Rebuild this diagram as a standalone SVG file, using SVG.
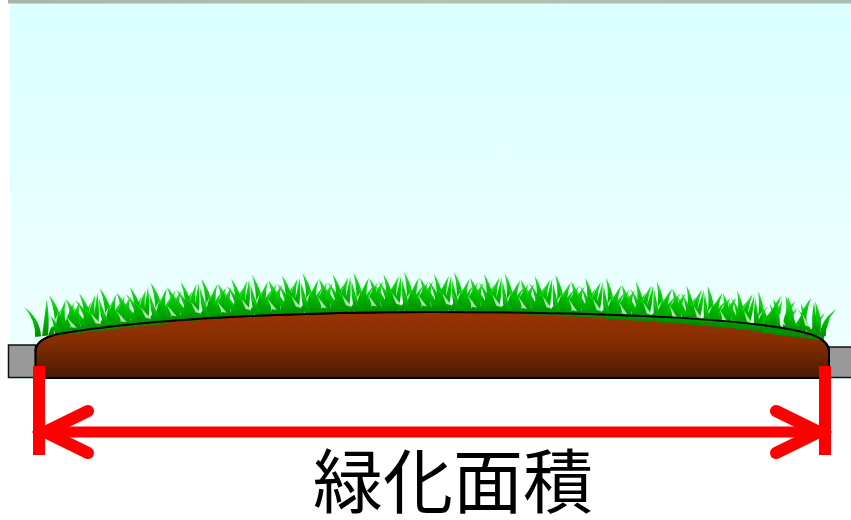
<svg xmlns="http://www.w3.org/2000/svg" xmlns:xlink="http://www.w3.org/1999/xlink" width="851" height="520" viewBox="0 0 851 520">
  <defs>
    <linearGradient id="sky" x1="0" y1="0" x2="0" y2="1">
      <stop offset="0" stop-color="#dbffff"/>
      <stop offset="1" stop-color="#f0ffff"/>
    </linearGradient>
    <linearGradient id="band" x1="0" y1="0" x2="1" y2="0">
      <stop offset="0" stop-color="#a9b4a6"/>
      <stop offset="0.5" stop-color="#b4c0ac"/>
      <stop offset="1" stop-color="#a8bcaf"/>
    </linearGradient>
    <linearGradient id="soil" x1="0" y1="0" x2="0" y2="1">
      <stop offset="0" stop-color="#9a3300"/>
      <stop offset="0.45" stop-color="#862e00"/>
      <stop offset="1" stop-color="#4a1a04"/>
    </linearGradient>
    <linearGradient id="blade" x1="0" y1="1" x2="0" y2="0">
      <stop offset="0" stop-color="#008a00"/>
      <stop offset="0.6" stop-color="#00c400"/>
      <stop offset="1" stop-color="#33e033"/>
    </linearGradient>
    <!-- a clump of grass blades, base on y = 0 -->
    <g id="tuft" fill="url(#blade)">
      <path d="M0,1 Q3,-14 -7,-30 Q7,-16 6,1Z"/>
      <path d="M7,1 Q12,-18 16,-35 Q17,-16 13,1Z"/>
      <path d="M13,1 Q20,-14 31,-25 Q22,-11 19,1Z"/>
      <path d="M20,1 Q24,-20 19,-39 Q31,-20 27,1Z"/>
      <path d="M28,1 Q33,-16 43,-29 Q38,-13 35,1Z"/>
      <path d="M36,1 Q40,-18 35,-33 Q47,-18 43,1Z"/>
      <path d="M44,1 Q51,-16 60,-27 Q54,-11 51,1Z"/>
      <path d="M50,1 Q54,-18 49,-37 Q61,-18 57,1Z"/>
      <path d="M56,1 Q60,-12 66,-22 Q63,-10 62,1Z"/>
      <path d="M16,-6 Q22,-14 26,-20 L22,-8Z" fill="#e8ffe8" opacity="0.7"/>
      <path d="M41,-5 Q46,-12 50,-18 L46,-6Z" fill="#e8ffe8" opacity="0.7"/>
    </g>
    <g id="tuftB">
      <use xlink:href="#tuft" transform="scale(-1,0.9)"/>
    </g>
  </defs>

  <style>
    .red { stroke: #ff0000; fill: none; }
    .block { fill: #999999; stroke: #111111; stroke-width: 1.5; }
    .label { font-family: "Noto Sans CJK JP", "Noto Sans", sans-serif; font-size: 70px; fill: #000000; }
  </style>

  <!-- background -->
  <rect x="0" y="0" width="851" height="520" fill="#ffffff"/>
  <rect x="10" y="3" width="841" height="378" fill="url(#sky)"/>
  <rect x="8" y="0" width="843" height="3.5" fill="url(#band)"/>

  <!-- edge blocks -->
  <g id="block-left">
    <rect class="block" x="8.5" y="345" width="27" height="32.5"/>
  </g>
  <g id="block-right">
    <rect class="block" x="828" y="347" width="25" height="30.5"/>
  </g>

  <!-- soil mound -->
  <g id="soil-mound">
    <path id="mound" d="M35.5,378 L35.5,351 Q36,339 58,334 C150,318 300,312 430,312 C600,312 750,318 806,333 Q829,339 829,352 L829,378 Z"
          fill="url(#soil)" stroke="#000000" stroke-width="2"/>
  </g>

  <!-- grass on the mound -->
  <g id="grass">
    <use xlink:href="#tuft" transform="translate(35,336) rotate(-7)"/>
    <use xlink:href="#tuft" transform="translate(85,329) rotate(-6)"/>
    <use xlink:href="#tuft" transform="translate(135,323) rotate(-5)"/>
    <use xlink:href="#tuft" transform="translate(185,319) rotate(-4)"/>
    <use xlink:href="#tuft" transform="translate(235,315) rotate(-3)"/>
    <use xlink:href="#tuft" transform="translate(285,313) rotate(-2)"/>
    <use xlink:href="#tuft" transform="translate(335,312) rotate(-1)"/>
    <use xlink:href="#tuft" transform="translate(385,311)"/>
    <use xlink:href="#tuft" transform="translate(435,311)"/>
    <use xlink:href="#tuft" transform="translate(485,312) rotate(1)"/>
    <use xlink:href="#tuft" transform="translate(535,313) rotate(2)"/>
    <use xlink:href="#tuft" transform="translate(585,316) rotate(3)"/>
    <use xlink:href="#tuft" transform="translate(635,319) rotate(4)"/>
    <use xlink:href="#tuft" transform="translate(685,323) rotate(5)"/>
    <use xlink:href="#tuft" transform="translate(735,328) rotate(6)"/>
    <use xlink:href="#tuft" transform="translate(762,332) rotate(7)"/>
    <use xlink:href="#tuftB" transform="translate(118,328) rotate(-6)"/>
    <use xlink:href="#tuftB" transform="translate(168,323) rotate(-5)"/>
    <use xlink:href="#tuftB" transform="translate(218,318) rotate(-4)"/>
    <use xlink:href="#tuftB" transform="translate(268,315) rotate(-3)"/>
    <use xlink:href="#tuftB" transform="translate(318,313) rotate(-2)"/>
    <use xlink:href="#tuftB" transform="translate(368,312) rotate(-1)"/>
    <use xlink:href="#tuftB" transform="translate(418,311)"/>
    <use xlink:href="#tuftB" transform="translate(468,311)"/>
    <use xlink:href="#tuftB" transform="translate(518,313) rotate(1)"/>
    <use xlink:href="#tuftB" transform="translate(568,315) rotate(2)"/>
    <use xlink:href="#tuftB" transform="translate(618,318) rotate(3)"/>
    <use xlink:href="#tuftB" transform="translate(668,322) rotate(4)"/>
    <use xlink:href="#tuftB" transform="translate(718,326) rotate(5)"/>
    <use xlink:href="#tuftB" transform="translate(768,331) rotate(6)"/>
    <use xlink:href="#tuftB" transform="translate(826,335) rotate(7)"/>
  </g>

  <!-- outline of the mound's top edge, kept visible along the grass line -->
  <path d="M35.5,351 Q36,339 58,334 C150,318 300,312 430,312 C600,312 750,318 806,333 Q829,339 829,352"
        fill="none" stroke="#000000" stroke-width="2"/>

  <!-- width dimension -->
  <g id="dimension">
    <line class="red" x1="39" y1="366" x2="39" y2="455" stroke-width="12"/>
    <line class="red" x1="825" y1="366" x2="825" y2="455" stroke-width="12"/>
    <line class="red" x1="42" y1="432" x2="822" y2="432" stroke-width="11"/>
    <polyline class="red" points="88,411 45,432 88,453" stroke-width="12" stroke-linecap="round" stroke-linejoin="miter"/>
    <polyline class="red" points="776,411 819,432 776,453" stroke-width="12" stroke-linecap="round" stroke-linejoin="miter"/>
  </g>

  <g id="caption">
    <text class="label" x="453" y="508" text-anchor="middle">緑化面積</text>
  </g>
</svg>
